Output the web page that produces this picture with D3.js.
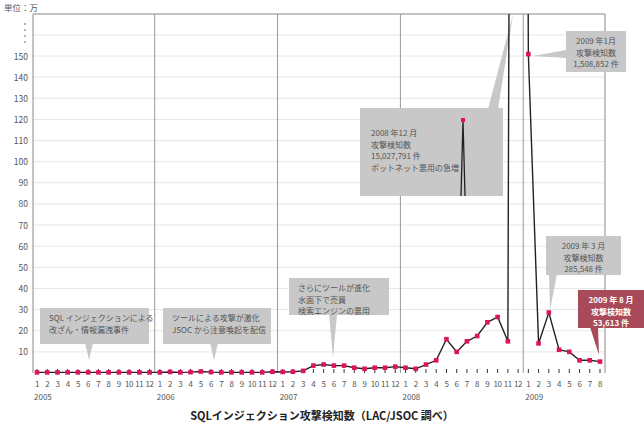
<!DOCTYPE html>
<html><head><meta charset="utf-8">
<script src="https://cdn.jsdelivr.net/npm/d3@7"></script>
<style>body{margin:0;background:#fff}text{font-family:"Noto Sans CJK JP","Noto Sans",sans-serif}</style>
</head><body><svg id="chart" width="644" height="430"></svg>
<script>
// months Jan 2005 .. Aug 2009, values in 万件
var years = [2005, 2006, 2007, 2008, 2009];
var values = [
  0.3,0.3,0.3,0.3,0.3,0.3,0.3,0.3,0.3,0.3,0.3,0.3,
  0.3,0.5,0.3,0.4,0.7,0.4,0.3,0.3,0.3,0.3,0.3,0.6,
  0.5,0.6,1,3.5,4,3.5,3.5,2.5,2,2.5,2.5,3,
  2.5,2,4,6,16,10,15,17.5,24,26.5,15,1502.8,
  150.9,14,28.6,11,10,6,6,5.4
];
var yTicks = [10,20,30,40,50,60,70,80,90,100,110,120,130,140,150];

var svg = d3.select("#chart");
var pLeft = 33, pRight = 605, pTop = 14, pBottom = 373;
var x = d3.scaleLinear().domain([0, values.length - 1]).range([37, 600]);
var y = d3.scaleLinear().domain([0, 150]).range([pBottom, 56]);

svg.append("text").attr("x", 4).attr("y", 11).attr("font-size", 8.5).attr("fill", "#555").text("単位：万");

// gridlines
svg.selectAll("line.grid").data(yTicks.concat([160])).enter().append("line")
  .attr("x1", pLeft).attr("x2", pRight).attr("y1", d => y(d)).attr("y2", d => y(d))
  .attr("stroke", "#e6e6e6").attr("stroke-width", 1);
svg.selectAll("text.ytick").data(yTicks).enter().append("text")
  .attr("x", 28).attr("y", d => y(d) + 3.5).attr("text-anchor", "end")
  .attr("font-size", 8.5).attr("fill", "#555").text(d => d);
[24, 30, 36, 42].forEach(function(p){ svg.append("circle").attr("cx", 25).attr("cy", p).attr("r", 0.8).attr("fill", "#555"); });

// year separators
svg.selectAll("line.year").data(years.slice(1)).enter().append("line")
  .attr("x1", (d, i) => x((i + 1) * 12 - 0.5)).attr("x2", (d, i) => x((i + 1) * 12 - 0.5))
  .attr("y1", pTop).attr("y2", pBottom).attr("stroke", "#999");

// frame
svg.append("path").attr("d", `M${pLeft},${pBottom}V${pTop}H${pRight}V${pBottom}`)
  .attr("fill", "none").attr("stroke", "#888").attr("stroke-width", 1);

// month ticks & labels
svg.selectAll("line.mt").data(values).enter().append("line")
  .attr("x1", (d, i) => x(i)).attr("x2", (d, i) => x(i)).attr("y1", pBottom).attr("y2", pBottom - 4)
  .attr("stroke", "#333");
svg.selectAll("text.mt").data(values).enter().append("text")
  .attr("x", (d, i) => x(i)).attr("y", 387).attr("text-anchor", "middle").attr("letter-spacing", -0.3)
  .attr("font-size", 8).attr("fill", "#555").text((d, i) => i % 12 + 1);
svg.selectAll("text.yr").data(years).enter().append("text")
  .attr("x", (d, i) => x(i * 12) - 3).attr("y", 400).attr("font-size", 8).attr("fill", "#555").text(d => d);

// callouts (drawn below line)
function callout(bx, by, w, h, tip, base, lines, fill, color, bold, anchor){
  svg.append("path").attr("d", `M${base[0]},${base[1]}L${tip[0]},${tip[1]}L${base[2]},${base[3]}Z`).attr("fill", fill);
  svg.append("rect").attr("x", bx).attr("y", by).attr("width", w).attr("height", h).attr("fill", fill);
  lines.forEach(function(t, k){
    svg.append("text").attr("x", anchor === "middle" ? bx + w / 2 : bx + 9).attr("y", by + 13 + k * 11.5)
      .attr("text-anchor", anchor || "start").attr("font-size", 8).attr("fill", color)
      .attr("font-weight", bold ? "bold" : "normal").text(t);
  });
}
var g = "#c8c8c8";
callout(40, 308, 109, 36, [89, 360], [85, 343, 93, 343], ["SQL インジェクションによる", "改ざん・情報漏洩事件"], g, "#555");
callout(163, 308, 108, 36, [214, 360], [210, 343, 218, 343], ["ツールによる攻撃が激化", "JSOC から注意喚起を配信"], g, "#555");
callout(289, 278, 100, 37, [333, 358], [329, 314, 337, 314], ["さらにツールが進化", "水面下で売買", "検索エンジンの悪用"], g, "#555", false);
callout(360, 108, 143, 88, [513, 14], [488, 109, 498, 109], [], g, "#555");
["2008 年12 月", "攻撃検知数", "15,027,791 件", "ボットネット悪用の急増"].forEach(function(t, k){
  svg.append("text").attr("x", 371).attr("y", 136 + k * 11.5).attr("font-size", 8).attr("fill", "#555").text(t);
});
callout(566, 31, 60, 41, [533, 56], [566, 50, 566, 58], ["2009 年1月", "攻撃検知数", "1,508,852 件"], g, "#555", false, "middle");
callout(546, 236, 75, 39, [550, 310], [549, 274, 557, 274], ["2009 年 3 月", "攻撃検知数", "285,548 件"], g, "#555", false, "middle");
callout(578, 290, 66, 38, [599, 355], [590, 327, 598, 327], ["2009 年 8 月", "攻撃検知数", "53,613 件"], "#a84a5a", "#fff", true, "middle");

// inset for the off-scale peak
svg.append("path").attr("d", "M461,196L463,120L465,196").attr("fill", "none").attr("stroke", "#222").attr("stroke-width", 1.3);
svg.append("rect").attr("x", 461).attr("y", 118).attr("width", 4).attr("height", 4).attr("fill", "#e0115f");

// data line
svg.append("clipPath").attr("id", "clip").append("rect").attr("x", pLeft).attr("y", pTop).attr("width", pRight - pLeft).attr("height", pBottom - pTop + 5);
var line = d3.line().x((d, i) => x(i)).y(d => y(d));
svg.append("path").datum(values).attr("clip-path", "url(#clip)").attr("d", line)
  .attr("fill", "none").attr("stroke", "#222").attr("stroke-width", 1.4);
var pts = values.map((v, i) => ({v: v, i: i})).filter(d => d.v < 160);
svg.selectAll("rect.pt").data(pts).enter().append("rect")
  .attr("x", d => x(d.i) - 2.3).attr("y", d => y(d.v) - 2.3)
  .attr("width", 4.6).attr("height", 4.6).attr("fill", "#e0115f");

svg.append("text").attr("x", 322).attr("y", 420).attr("text-anchor", "middle").attr("font-size", 11)
  .attr("font-weight", "bold").attr("fill", "#222").text("SQLインジェクション攻撃検知数（LAC/JSOC 調べ）");
</script></body></html>
